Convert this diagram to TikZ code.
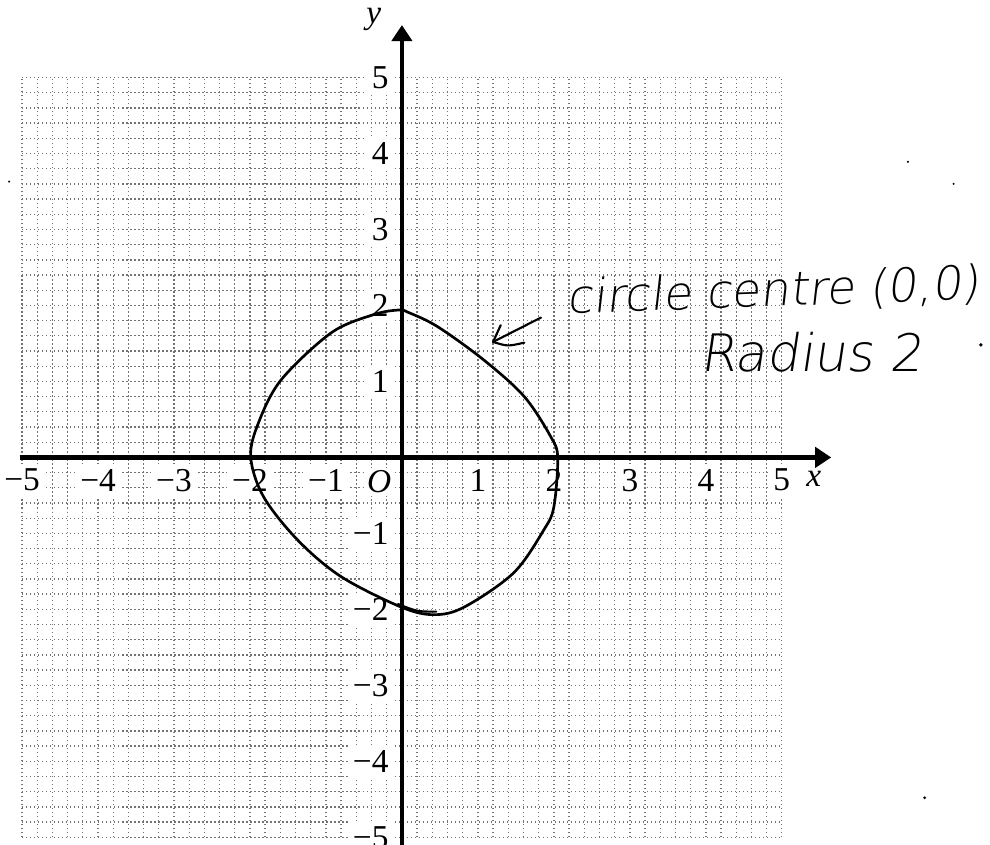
\documentclass[tikz,border=0pt]{standalone}
\usepackage{graphicx}
\usepackage{fontspec}
\setmainfont{Liberation Serif}
\newfontfamily\handfont{DejaVu Sans ExtraLight}[FakeSlant=0.15]
\usetikzlibrary{arrows.meta}
\begin{document}
\begin{tikzpicture}[x=1cm,y=1cm,
  gridline/.style={black!55, densely dotted, line width=0.5pt},
  axisline/.style={line width=1.8pt, -{Triangle[length=6pt,width=7.5pt]}},
  numlab/.style={fill=white, inner sep=2pt, font=\fontsize{12.5}{14}\selectfont},
  varlab/.style={inner sep=1pt, font=\fontsize{12.5}{14}\selectfont\itshape},
  hand/.style={inner sep=0pt, font=\handfont},
  pen/.style={line width=1pt, line join=round, line cap=round}]
\useasboundingbox (-5.29,-5.10) rectangle (7.74,6.02);
% grid
\draw[gridline] (-5,-5) grid[step=0.2] (5,5);
% number labels
\foreach \v in {1,...,5} {
  \node[numlab] (xp\v) at (\v,-0.3) {\v};
  \node[numlab] (xn\v) at (-\v,-0.3) {−\v};
  \node[numlab, anchor=east] (yp\v) at (-0.1,\v) {\v};
  \node[numlab, anchor=east] (yn\v) at (-0.1,-\v) {−\v};
}
\node[varlab, fill=white] (orig) at (-0.3,-0.32) {O};
% axes
\coordinate (xs) at (-5.03,0);
\coordinate (xe) at (5.65,0);
\coordinate (ys) at (0,-5.12);
\coordinate (ye) at (0,5.69);
\draw[axisline] (xs) -- (xe);
\draw[axisline] (ys) -- (ye);
\node[varlab] (xlab) at (5.42,-0.28) {x};
\node[varlab] (ylab) at (-0.37,5.77) {y};
% hand-drawn circle
\draw[pen] plot[smooth cycle, tension=0.55] coordinates {
  (-0.04,1.94) (-0.37,1.88) (-0.93,1.64) (-1.59,1.02) (-1.89,0.45)
  (-1.99,0.0) (-1.82,-0.52) (-1.37,-1.09) (-0.80,-1.57) (-0.01,-1.97)
  (0.42,-2.07) (0.82,-1.97) (1.47,-1.52) (1.87,-0.95) (2.0,-0.65)
  (2.05,0.0) (1.96,0.27) (1.61,0.80) (1.08,1.28) (0.47,1.72) (0.08,1.91)};
\draw[pen, line width=0.8pt] (-0.05,-1.93) .. controls (0.2,-2.03) .. (0.45,-2.03);
% annotation
\node[hand, rotate=2] (note1) at (4.89,2.18) {\resizebox{5.43cm}{!}{circle centre (0,0)}};
\node[hand] (note2) at (5.39,1.39) {\resizebox{2.93cm}{!}{Radius 2}};
\coordinate (atail) at (1.83,1.84);
\coordinate (atip) at (1.20,1.52);
\coordinate (arm1) at (1.30,1.74);
\coordinate (armm) at (1.39,1.46);
\coordinate (arm2) at (1.61,1.51);
\draw[pen, line width=0.8pt] (atail) -- (atip);
\draw[pen, line width=0.8pt] (arm1) -- (atip) .. controls (armm) .. (arm2);
% stray marks
\fill (7.62,1.48) circle (0.025);
\fill (-5.17,3.63) circle (0.015);
\fill (6.66,3.89) circle (0.015);
\fill (7.26,3.60) circle (0.015);
\fill (6.88,-4.48) circle (0.02);
\end{tikzpicture}
\end{document}
